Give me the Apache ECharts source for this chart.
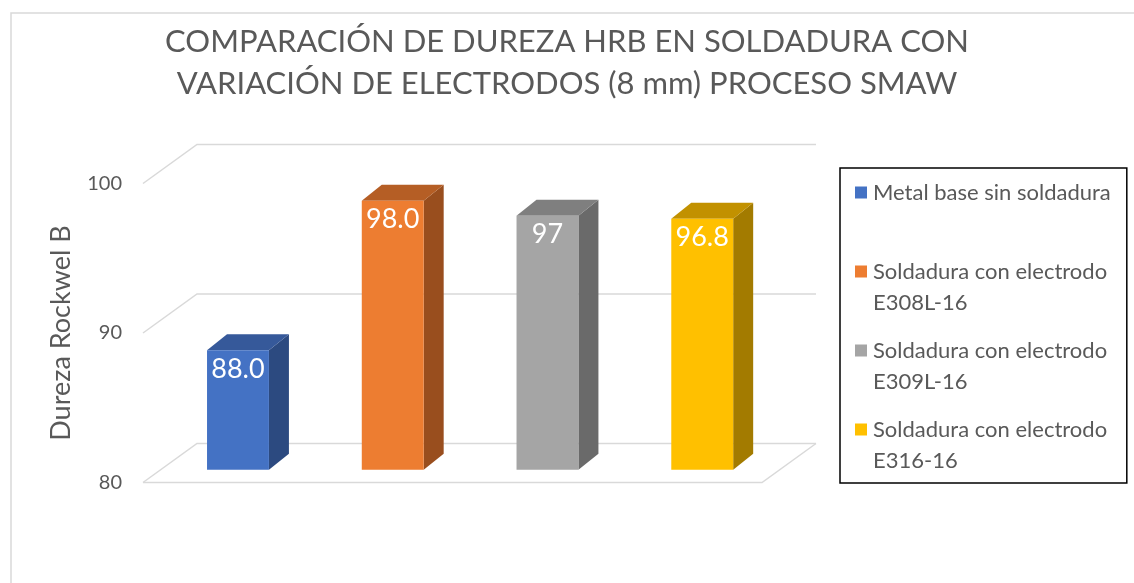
<!DOCTYPE html>
<html>
<head>
<meta charset="utf-8">
<script src="https://cdn.jsdelivr.net/npm/echarts@6/dist/echarts.min.js"></script>
<style>
  html, body { margin: 0; padding: 0; background: #fff; }
  #chart { width: 1134px; height: 583px; }
</style>
</head>
<body>
<div id="chart"></div>
<script>
// ---- data ----
const seriesNames = [
  'Metal base sin soldadura',
  'Soldadura con electrodo E308L-16',
  'Soldadura con electrodo E309L-16',
  'Soldadura con electrodo E316-16'
];
const legendLine1 = ['Metal base sin soldadura', 'Soldadura con electrodo', 'Soldadura con electrodo', 'Soldadura con electrodo'];
const legendLine2 = ['', 'E308L-16', 'E309L-16', 'E316-16'];
const values = [88.0, 98.0, 97, 96.8];
const valueLabels = ['88.0', '98.0', '97', '96.8'];
const yTicks = [80, 90, 100];
const titleText = 'COMPARACIÓN DE DUREZA HRB EN SOLDADURA CON\nVARIACIÓN DE ELECTRODOS (8 mm) PROCESO SMAW';
const yAxisName = 'Dureza Rockwel B';

// ---- styles ----
const frontColors = ['#4472C4', '#ED7D31', '#A5A5A5', '#FFC000'];
const topColors   = ['#36599A', '#B55E25', '#7F7F7F', '#C29100'];
const sideColors  = ['#2C4A80', '#994E1E', '#6A6A6A', '#A37B00'];
const FONT = 'Lato';
const TXT = '#595959';
const GRID_C = '#d9d9d9';
const DX = 54, DY = 39;         // full floor depth projection
const D1 = 0.326;               // bar front depth fraction
const BDX = 20, BDY = 16;       // bar depth projection
const BAR_FRAC = 0.40;

const chart = echarts.init(document.getElementById('chart'), null, { renderer: 'canvas' });

function wallItem(params, api) {
  const v = api.value(1);
  const cs = params.coordSys;
  const left = cs.x, right = cs.x + cs.width;
  const yf = api.coord([0, v])[1];
  const children = [{
    type: 'polyline',
    shape: { points: [[left, yf], [left + DX, yf - DY], [right + DX, yf - DY]] },
    style: { stroke: GRID_C, lineWidth: 1.5, fill: null }
  }];
  if (v === yTicks[0]) {
    children.push({
      type: 'polyline',
      shape: { points: [[left, yf], [right, yf], [right + DX, yf - DY]] },
      style: { stroke: GRID_C, lineWidth: 1.5, fill: null }
    });
  }
  return { type: 'group', children: children };
}

function barItemFactory(k) {
  return function (params, api) {
    const idx = api.value(0);
    const v = api.value(1);
    const pTop = api.coord([idx, v]);
    const pBase = api.coord([idx, yTicks[0]]);
    const band = api.size([1, 0])[0];
    const w = band * BAR_FRAC;
    const ox = D1 * DX, oy = D1 * DY;
    const xL = pTop[0] - w / 2 + ox, xR = xL + w;
    const yT = pTop[1] - oy, yB = pBase[1] - oy;
    return {
      type: 'group',
      children: [
        { type: 'polygon', shape: { points: [[xR, yT], [xR + BDX, yT - BDY], [xR + BDX, yB - BDY], [xR, yB]] },
          style: { fill: sideColors[k] } },
        { type: 'polygon', shape: { points: [[xL, yT], [xL + BDX, yT - BDY], [xR + BDX, yT - BDY], [xR, yT]] },
          style: { fill: topColors[k] } },
        { type: 'rect', shape: { x: xL, y: yT, width: w, height: yB - yT },
          style: { fill: frontColors[k] } },
        { type: 'text', x: xL + w / 2, y: yT + 19,
          style: { text: valueLabels[k], fill: '#fff', font: '27px ' + FONT, align: 'center', verticalAlign: 'middle' } }
      ]
    };
  };
}

const rich = { sp: { width: 6, lineHeight: 31 }, ind: { width: 18, lineHeight: 31 } };
frontColors.forEach(function (c, i) {
  rich['sq' + i] = { width: 12, height: 12, backgroundColor: c, lineHeight: 31 };
});

const series = [{
  type: 'custom',
  name: '__walls',
  renderItem: wallItem,
  data: yTicks.map(function (t) { return [0, t]; }),
  encode: { x: 0, y: 1 },
  silent: true,
  z: 1
}];
seriesNames.forEach(function (n, i) {
  series.push({
    type: 'custom',
    name: n,
    renderItem: barItemFactory(i),
    data: [[i, values[i]]],
    encode: { x: 0, y: 1 },
    itemStyle: { color: frontColors[i] },
    z: 2
  });
});

chart.setOption({
  animation: false,
  backgroundColor: '#fff',
  title: {
    text: titleText,
    left: 'center',
    top: 21,
    padding: 0,
    textStyle: { fontFamily: FONT, fontSize: 31, fontWeight: 'normal', color: TXT, lineHeight: 42 }
  },
  graphic: [{
    type: 'rect',
    shape: { x: 11, y: 13, width: 1200, height: 700 },
    style: { fill: null, stroke: '#d9d9d9', lineWidth: 1.5 },
    silent: true
  }],
  grid: { left: 143, top: 183.5, width: 619, height: 299 },
  xAxis: {
    type: 'category',
    data: seriesNames,
    show: false,
    boundaryGap: true
  },
  yAxis: {
    type: 'value',
    min: 80, max: 100, interval: 10,
    name: yAxisName,
    nameLocation: 'middle',
    nameRotate: 90,
    nameGap: 68,
    nameTextStyle: { fontFamily: FONT, fontSize: 27, color: TXT },
    axisLine: { show: false },
    axisTick: { show: false },
    splitLine: { show: false },
    axisLabel: { fontFamily: FONT, fontSize: 20, color: TXT, margin: 21 }
  },
  legend: {
    data: seriesNames,
    orient: 'vertical',
    left: 840,
    top: 168,
    padding: [9, 16, 7, 10],
    borderColor: '#000',
    borderWidth: 1.5,
    itemGap: 17,
    icon: 'none',
    itemWidth: 0,
    itemHeight: 12,
    selectedMode: false,
    textStyle: { fontFamily: FONT, fontSize: 22, color: TXT, lineHeight: 31, rich: rich },
    formatter: function (name) {
      const i = seriesNames.indexOf(name);
      return '{sq' + i + '|}{sp|}' + legendLine1[i] + '\n{ind|}' + legendLine2[i];
    }
  },
  series: series
});
</script>
</body>
</html>
